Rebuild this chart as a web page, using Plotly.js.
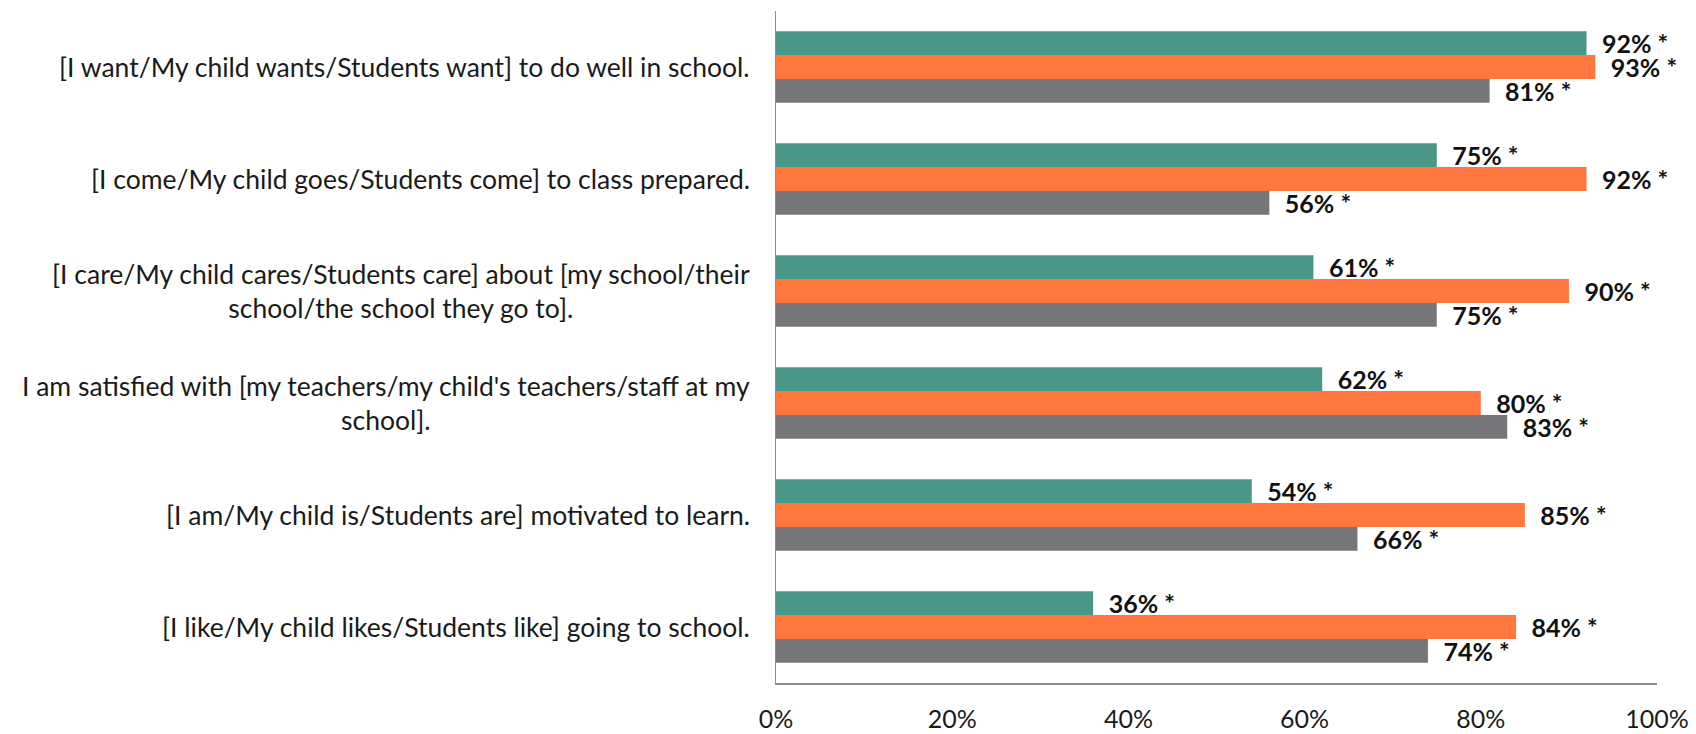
<!DOCTYPE html>
<html>
<head>
<meta charset="utf-8">
<script src="https://cdn.plot.ly/plotly-3.0.1.min.js"></script>
<style>
html,body{margin:0;padding:0;background:#fff;}
#chart{width:1696px;height:734px;}
</style>
</head>
<body>
<div id="chart"></div>
<script>
var categories = [
  "[I want/My child wants/Students want] to do well in school.",
  "[I come/My child goes/Students come] to class prepared.",
  "[I care/My child cares/Students care] about [my school/their<br>school/the school they go to].",
  "I am satisfied with [my teachers/my child's teachers/staff at my<br>school].",
  "[I am/My child is/Students are] motivated to learn.",
  "[I like/My child likes/Students like] going to school."
];
var students = [92, 75, 61, 62, 54, 36];
var parents  = [93, 92, 90, 80, 85, 84];
var staff    = [81, 56, 75, 83, 66, 74];
var seriesNames = ["Students", "Parents", "Staff"];
var seriesColors = ["#4A9689", "#FF773F", "#76777B"];
var xTicks = [0, 20, 40, 60, 80, 100];

var seriesValues = [students, parents, staff];
var traces = seriesValues.map(function(vals, i){
  return {
    type: 'bar',
    orientation: 'h',
    name: seriesNames[i],
    y: categories,
    x: vals,
    marker: {color: seriesColors[i]},
    text: vals.map(function(v){ return '\u2002' + v + '% *'; }),
    textposition: 'outside',
    constraintext: 'none',
    cliponaxis: false,
    textfont: {family: 'Lato, sans-serif', size: 25, color: '#111', weight: 'bold'},
    hoverinfo: 'x+y'
  };
});

var annotations = categories.map(function(c){
  return {
    xref: 'paper', yref: 'y', x: 0, y: c, xanchor: 'right', yanchor: 'middle',
    xshift: -24, text: c, showarrow: false, align: 'center',
    font: {family: 'Lato, sans-serif', size: 26.5, color: '#1a1a1a'}
  };
});

var layout = {
  width: 1696, height: 734,
  margin: {l: 776, r: 39, t: 11, b: 51},
  paper_bgcolor: '#fff', plot_bgcolor: '#fff',
  barmode: 'group', bargap: 0.36, bargroupgap: 0,
  showlegend: false,
  font: {family: 'Lato, sans-serif', color: '#1a1a1a'},
  xaxis: {
    range: [0, 100], tickvals: xTicks, ticktext: xTicks.map(function(t){return t + '%';}),
    showgrid: false, zeroline: false, showline: true, linecolor: '#8c8c8c', linewidth: 1.5,
    ticks: '', ticklabelstandoff: 13,
    tickfont: {family: 'Lato, sans-serif', size: 25, color: '#1a1a1a'}
  },
  yaxis: {
    autorange: 'reversed', showticklabels: false, showgrid: false, zeroline: false,
    showline: true, linecolor: '#8c8c8c', linewidth: 1.5, ticks: ''
  },
  annotations: annotations
};

Plotly.newPlot('chart', traces, layout, {displayModeBar: false, staticPlot: true});
</script>
</body>
</html>
